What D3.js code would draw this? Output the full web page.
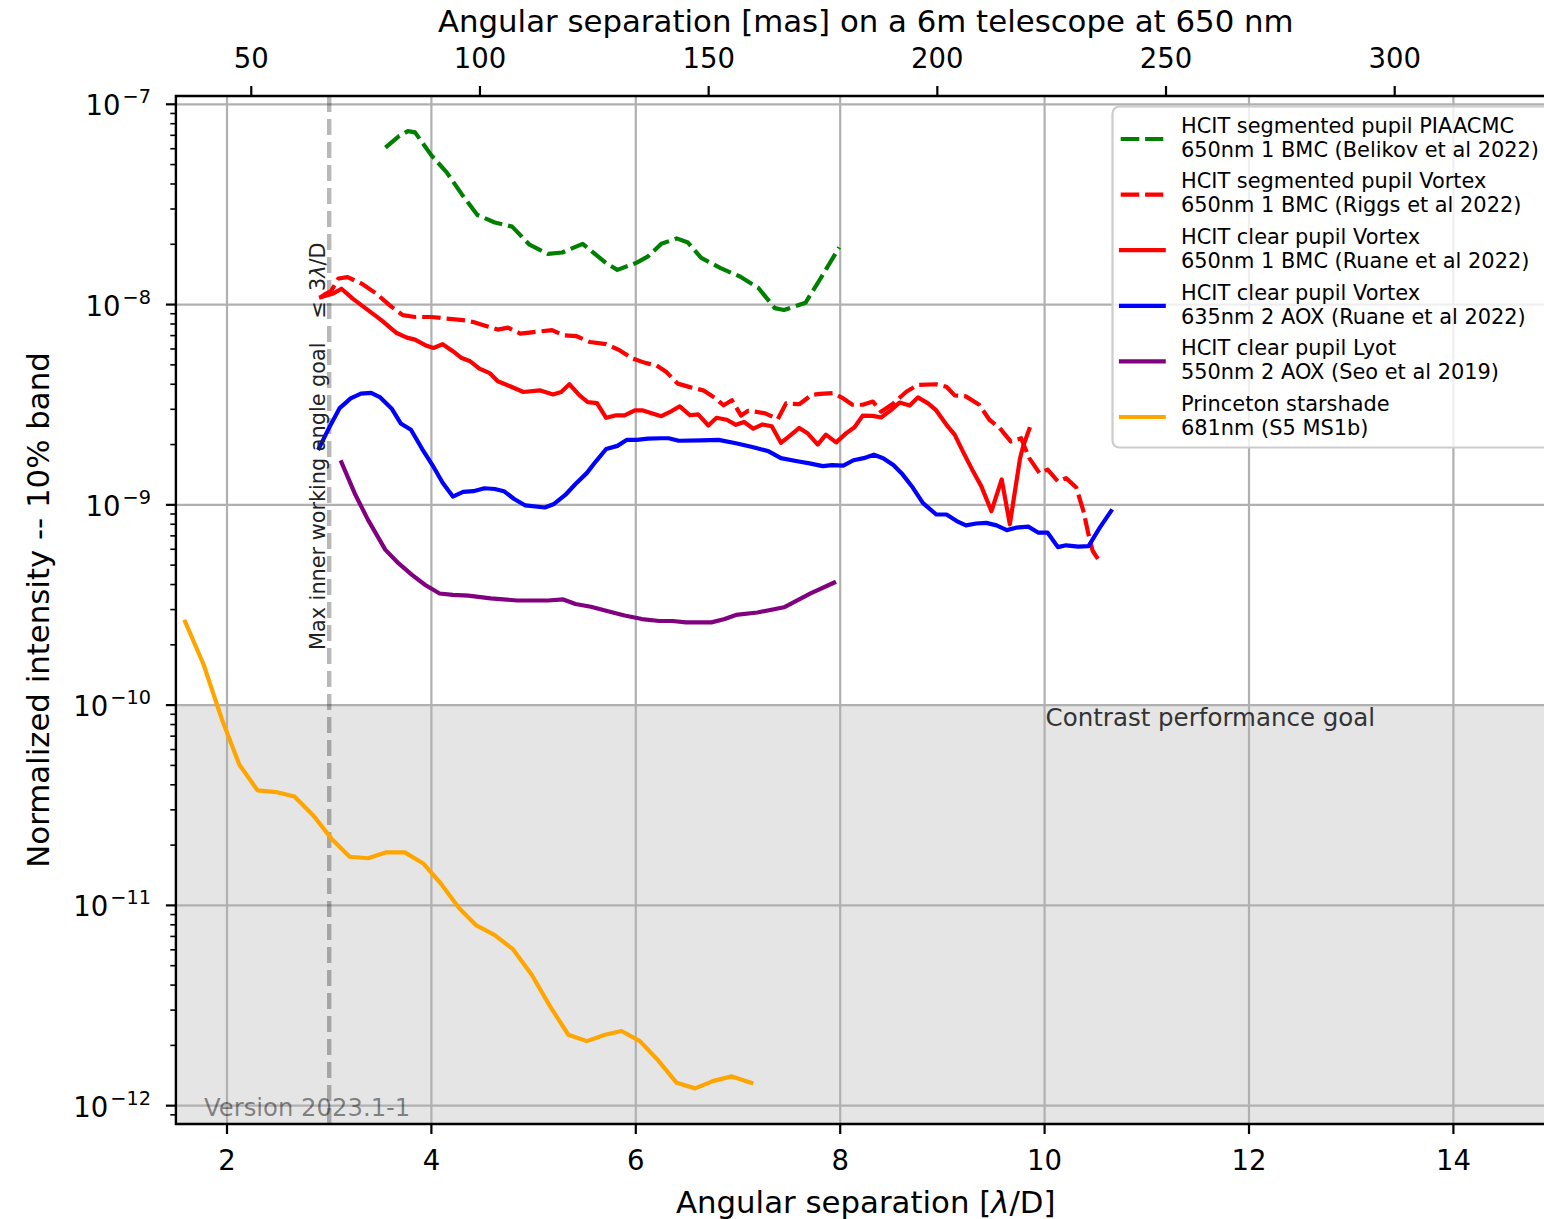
<!DOCTYPE html>
<html>
<head>
<meta charset="utf-8">
<script src="https://cdn.jsdelivr.net/npm/d3@7"></script>
<style>
  body { margin: 0; background: #fff; }
  text { font-family: "DejaVu Sans", sans-serif; }
</style>
</head>
<body>
<svg id="chart" width="1544" height="1219"></svg>
<script>
// ---- Contrast curves: separation [lambda/D] and normalized intensity ----
const piaacmcSep = [3.55,3.68,3.77,3.84,4.0,4.15,4.31,4.45,4.62,4.79,4.96,5.14,5.28,5.48,5.71,5.82,6.01,6.12,6.25,6.4,6.51,6.64,6.83,7.02,7.2,7.36,7.45,7.66,7.8,7.99];
const piaacmcInt = [6.07e-8,6.92e-8,7.35e-8,7.24e-8,5.56e-8,4.57e-8,3.48e-8,2.8e-8,2.57e-8,2.45e-8,1.99e-8,1.79e-8,1.82e-8,2.01e-8,1.61e-8,1.49e-8,1.62e-8,1.74e-8,2.01e-8,2.14e-8,2.04e-8,1.71e-8,1.52e-8,1.38e-8,1.21e-8,9.6e-9,9.4e-9,1.02e-8,1.33e-8,1.93e-8];

const vortexSegSep = [2.92,2.97,3.02,3.09,3.18,3.32,3.46,3.59,3.72,3.84,4.0,4.15,4.31,4.41,4.51,4.65,4.75,4.87,5.0,5.18,5.29,5.42,5.55,5.71,5.84,5.97,6.1,6.2,6.3,6.41,6.53,6.66,6.77,6.86,6.94,7.03,7.1,7.26,7.39,7.47,7.6,7.72,7.8,7.93,8.03,8.12,8.22,8.32,8.4,8.52,8.65,8.76,8.94,9.04,9.12,9.23,9.36,9.46,9.56,9.67,9.77,9.85,9.95,10.03,10.13,10.21,10.31,10.38,10.43,10.47,10.54];
const vortexSegInt = [1.09e-8,1.135e-8,1.17e-8,1.35e-8,1.37e-8,1.27e-8,1.135e-8,9.93e-9,8.85e-9,8.67e-9,8.67e-9,8.51e-9,8.36e-9,8.18e-9,7.89e-9,7.5e-9,7.67e-9,7.16e-9,7.29e-9,7.45e-9,7.03e-9,6.95e-9,6.5e-9,6.34e-9,5.92e-9,5.37e-9,5.1e-9,4.98e-9,4.6e-9,4.03e-9,3.87e-9,3.73e-9,3.43e-9,3.14e-9,3.33e-9,2.79e-9,2.95e-9,2.87e-9,2.68e-9,3.21e-9,3.18e-9,3.54e-9,3.58e-9,3.61e-9,3.4e-9,3.16e-9,3.16e-9,3.28e-9,2.92e-9,3.21e-9,3.68e-9,3.97e-9,4.0e-9,3.89e-9,3.52e-9,3.48e-9,3.16e-9,2.66e-9,2.42e-9,2.07e-9,2.15e-9,1.71e-9,1.44e-9,1.5e-9,1.31e-9,1.36e-9,1.22e-9,9.3e-10,7.1e-10,5.9e-10,5.2e-10];

const vortexBmcSep = [2.92,3.04,3.12,3.23,3.36,3.51,3.66,3.76,3.84,3.94,4.02,4.11,4.21,4.29,4.38,4.47,4.57,4.65,4.77,4.9,5.06,5.19,5.27,5.35,5.45,5.53,5.62,5.71,5.81,5.89,5.99,6.07,6.17,6.25,6.35,6.43,6.53,6.61,6.71,6.79,6.89,6.98,7.06,7.15,7.24,7.33,7.42,7.5,7.6,7.68,7.78,7.86,7.96,8.06,8.14,8.22,8.32,8.4,8.5,8.58,8.68,8.76,8.86,8.94,9.04,9.12,9.2,9.3,9.38,9.48,9.58,9.66,9.76,9.79,9.85];
const vortexBmcInt = [1.09e-8,1.135e-8,1.2e-8,1.07e-8,9.55e-9,8.36e-9,7.21e-9,6.84e-9,6.68e-9,6.27e-9,6.07e-9,6.34e-9,5.85e-9,5.43e-9,5.21e-9,4.79e-9,4.55e-9,4.14e-9,3.91e-9,3.66e-9,3.73e-9,3.56e-9,3.66e-9,4.0e-9,3.52e-9,3.26e-9,3.22e-9,2.72e-9,2.8e-9,2.8e-9,2.96e-9,2.96e-9,2.85e-9,2.77e-9,2.94e-9,3.1e-9,2.8e-9,2.83e-9,2.49e-9,2.72e-9,2.66e-9,2.51e-9,2.59e-9,2.4e-9,2.52e-9,2.47e-9,2.04e-9,2.2e-9,2.42e-9,2.28e-9,2.0e-9,2.24e-9,2.05e-9,2.28e-9,2.44e-9,2.79e-9,2.78e-9,2.73e-9,2.98e-9,3.24e-9,3.13e-9,3.44e-9,3.21e-9,2.96e-9,2.51e-9,2.24e-9,1.85e-9,1.47e-9,1.24e-9,9.3e-10,1.34e-9,8.0e-10,1.71e-9,1.96e-9,2.39e-9];

const vortexAoxSep = [2.9,3.0,3.1,3.21,3.31,3.41,3.5,3.61,3.7,3.8,3.91,4.01,4.11,4.21,4.31,4.41,4.52,4.62,4.71,4.81,4.92,5.11,5.2,5.31,5.41,5.52,5.61,5.71,5.82,5.91,6.01,6.12,6.25,6.32,6.42,6.64,6.81,6.98,7.15,7.3,7.42,7.58,7.7,7.83,7.92,8.03,8.13,8.23,8.33,8.42,8.52,8.61,8.71,8.81,8.94,9.04,9.14,9.23,9.33,9.43,9.53,9.63,9.72,9.84,9.94,10.03,10.13,10.21,10.33,10.43,10.54,10.65];
const vortexAoxInt = [1.92e-9,2.43e-9,3.03e-9,3.4e-9,3.59e-9,3.62e-9,3.44e-9,3.03e-9,2.55e-9,2.37e-9,1.9e-9,1.58e-9,1.29e-9,1.1e-9,1.16e-9,1.17e-9,1.21e-9,1.2e-9,1.17e-9,1.07e-9,9.93e-10,9.7e-10,1.01e-9,1.12e-9,1.27e-9,1.44e-9,1.65e-9,1.9e-9,1.97e-9,2.11e-9,2.11e-9,2.14e-9,2.15e-9,2.15e-9,2.09e-9,2.1e-9,2.11e-9,2.03e-9,1.94e-9,1.85e-9,1.71e-9,1.65e-9,1.61e-9,1.56e-9,1.58e-9,1.57e-9,1.67e-9,1.71e-9,1.78e-9,1.71e-9,1.58e-9,1.42e-9,1.22e-9,1.02e-9,8.95e-10,8.95e-10,8.3e-10,7.9e-10,8.07e-10,8.13e-10,7.9e-10,7.48e-10,7.69e-10,7.78e-10,7.26e-10,7.26e-10,6.15e-10,6.28e-10,6.18e-10,6.22e-10,7.69e-10,9.3e-10];

const lyotSep = [3.12,3.25,3.38,3.55,3.68,3.81,3.94,4.08,4.21,4.36,4.58,4.84,5.14,5.29,5.41,5.56,5.71,5.89,6.06,6.23,6.36,6.49,6.74,6.87,6.98,7.19,7.45,7.58,7.71,7.94];
const lyotInt = [1.63e-9,1.14e-9,8.41e-10,5.96e-10,5.1e-10,4.47e-10,3.98e-10,3.61e-10,3.55e-10,3.52e-10,3.41e-10,3.33e-10,3.33e-10,3.37e-10,3.2e-10,3.1e-10,2.96e-10,2.8e-10,2.69e-10,2.63e-10,2.63e-10,2.59e-10,2.59e-10,2.69e-10,2.82e-10,2.9e-10,3.08e-10,3.33e-10,3.61e-10,4.09e-10];

const starshadeSep = [1.59,1.77,1.95,2.12,2.3,2.48,2.66,2.84,3.02,3.2,3.38,3.56,3.74,3.92,4.09,4.27,4.44,4.62,4.8,4.98,5.16,5.34,5.52,5.7,5.86,6.04,6.22,6.4,6.58,6.76,6.94,7.13];
const starshadeInt = [2.61e-10,1.6e-10,8.5e-11,5.05e-11,3.75e-11,3.68e-11,3.5e-11,2.83e-11,2.16e-11,1.75e-11,1.72e-11,1.84e-11,1.84e-11,1.62e-11,1.29e-11,9.7e-12,7.94e-12,7.11e-12,6.03e-12,4.52e-12,3.14e-12,2.26e-12,2.1e-12,2.26e-12,2.36e-12,2.1e-12,1.68e-12,1.3e-12,1.22e-12,1.33e-12,1.4e-12,1.3e-12];

// ---- Axis ticks and reference levels ----
const sepTicks = [2, 4, 6, 8, 10, 12, 14];
const masTicks = [50, 100, 150, 200, 250, 300];
const decadeExponents = [-12, -11, -10, -9, -8, -7];
const contrastGoal = 1e-10;
const iwaGoal = 3;
const masPerLambdaD = 650e-9 / 6 * 206264806.2; // 650 nm on a 6 m aperture

// ---- Legend entries ----
const seriesLabels = [
  ["HCIT segmented pupil PIAACMC", "650nm 1 BMC (Belikov et al 2022)"],
  ["HCIT segmented pupil Vortex", "650nm 1 BMC (Riggs et al 2022)"],
  ["HCIT clear pupil Vortex", "650nm 1 BMC (Ruane et al 2022)"],
  ["HCIT clear pupil Vortex", "635nm 2 AOX (Ruane et al 2022)"],
  ["HCIT clear pupil Lyot", "550nm 2 AOX (Seo et al 2019)"],
  ["Princeton starshade", "681nm (S5 MS1b)"]
];
const seriesColors = ["green", "red", "red", "blue", "purple", "orange"];
const seriesDashed = [true, true, false, false, false, false];

const series = [
  [piaacmcSep, piaacmcInt], [vortexSegSep, vortexSegInt], [vortexBmcSep, vortexBmcInt],
  [vortexAoxSep, vortexAoxInt], [lyotSep, lyotInt], [starshadeSep, starshadeInt]
].map(([s, v], i) => ({
  points: s.map((d, j) => [d, v[j]]),
  color: seriesColors[i], dashed: seriesDashed[i], label: seriesLabels[i]
}));

// ---- Layout ----
const L = 175.9, R = 1555.6, T = 96, B = 1124;
const svg = d3.select("#chart");
svg.append("rect").attr("width", 1544).attr("height", 1219).attr("fill", "#fff");

const x = d3.scaleLinear().domain([1.5, 15]).range([L, R]);
const xTop = d3.scaleLinear().domain([1.5 * masPerLambdaD, 15 * masPerLambdaD]).range([L, R]);
const y = d3.scaleLog().domain([8.1e-13, 1.1e-7]).range([B, T]);

svg.append("defs").append("clipPath").attr("id", "plotClip")
  .append("rect").attr("x", L).attr("y", T).attr("width", R - L).attr("height", B - T);

const plot = svg.append("g").attr("clip-path", "url(#plotClip)");

// contrast goal band
plot.append("rect")
  .attr("x", L).attr("width", R - L)
  .attr("y", y(contrastGoal)).attr("height", B - y(contrastGoal))
  .attr("fill", "#e5e5e5");

// grid
const gridStyle = g => g.attr("stroke", "#b0b0b0").attr("stroke-width", 2.2);
plot.append("g").selectAll("line").data(sepTicks).join("line")
  .attr("x1", d => x(d)).attr("x2", d => x(d)).attr("y1", T).attr("y2", B).call(gridStyle);
plot.append("g").selectAll("line").data(decadeExponents).join("line")
  .attr("x1", L).attr("x2", R).attr("y1", d => y(Math.pow(10, d))).attr("y2", d => y(Math.pow(10, d))).call(gridStyle);

// inner working angle goal
plot.append("line")
  .attr("x1", x(iwaGoal)).attr("x2", x(iwaGoal)).attr("y1", T).attr("y2", B)
  .attr("stroke", "#000").attr("stroke-opacity", 0.28).attr("stroke-width", 4.4)
  .attr("stroke-dasharray", "16,7");

// curves
const line = d3.line().x(d => x(d[0])).y(d => y(d[1]));
plot.append("g").selectAll("path").data(series).join("path")
  .attr("d", d => line(d.points))
  .attr("fill", "none")
  .attr("stroke", d => d.color)
  .attr("stroke-width", 4.2)
  .attr("stroke-linejoin", "round")
  .attr("stroke-linecap", d => d.dashed ? "butt" : "square")
  .attr("stroke-dasharray", d => d.dashed ? "18.5,6" : null);

// annotations
svg.append("text")
  .attr("x", x(10) + 1).attr("y", y(contrastGoal) + 21)
  .attr("font-size", 24.5).attr("fill", "#333")
  .text("Contrast performance goal");

svg.append("text")
  .attr("x", 204).attr("y", 1116)
  .attr("font-size", 24.3).attr("fill", "#000").attr("fill-opacity", 0.45)
  .text("Version 2023.1-1");

const iwa = svg.append("text")
  .attr("transform", `translate(${x(iwaGoal) - 4},650) rotate(-90)`)
  .attr("font-size", 20.8).attr("fill", "#222");
iwa.append("tspan").text("Max inner working angle goal");
iwa.append("tspan").attr("dx", 24).text("≤");
iwa.append("tspan").attr("dx", 10).text("3");
iwa.append("tspan").attr("font-style", "italic").text("λ");
iwa.append("tspan").text("/D");

// ---- Axes ----
const axes = svg.append("g");
const tickW = 2.2;

// bottom
axes.append("g").selectAll("line").data(sepTicks).join("line")
  .attr("x1", d => x(d)).attr("x2", d => x(d)).attr("y1", B).attr("y2", B + 10)
  .attr("stroke", "#000").attr("stroke-width", tickW);
axes.append("g").selectAll("text").data(sepTicks).join("text")
  .attr("x", d => x(d)).attr("y", 1170).attr("text-anchor", "middle")
  .attr("font-size", 27.5).text(d => d);

// top (milliarcseconds)
axes.append("g").selectAll("line").data(masTicks).join("line")
  .attr("x1", d => xTop(d)).attr("x2", d => xTop(d)).attr("y1", T).attr("y2", T - 10)
  .attr("stroke", "#000").attr("stroke-width", tickW);
axes.append("g").selectAll("text").data(masTicks).join("text")
  .attr("x", d => xTop(d)).attr("y", 68).attr("text-anchor", "middle")
  .attr("font-size", 27.5).text(d => d);

// left (log)
axes.append("g").selectAll("line").data(decadeExponents).join("line")
  .attr("x1", L).attr("x2", L - 10)
  .attr("y1", d => y(Math.pow(10, d))).attr("y2", d => y(Math.pow(10, d)))
  .attr("stroke", "#000").attr("stroke-width", tickW);
const minorVals = [];
for (let e = -13; e <= -7; e++) for (let m = 2; m <= 9; m++) {
  const v = m * Math.pow(10, e);
  if (v > y.domain()[0] && v < y.domain()[1]) minorVals.push(v);
}
axes.append("g").selectAll("line").data(minorVals).join("line")
  .attr("x1", L).attr("x2", L - 5.6).attr("y1", d => y(d)).attr("y2", d => y(d))
  .attr("stroke", "#000").attr("stroke-width", 1.6);
const yLab = axes.append("g").selectAll("text").data(decadeExponents).join("text")
  .attr("x", 151).attr("y", d => y(Math.pow(10, d)) + 11)
  .attr("text-anchor", "end").attr("font-size", 27.5);
yLab.append("tspan").text("10");
yLab.append("tspan").attr("dx", 2).attr("dy", -12).attr("font-size", 19.3).text(d => "−" + Math.abs(d));

// spines
axes.append("path")
  .attr("d", `M${R},${T}H${L}V${B}H${R}`)
  .attr("fill", "none").attr("stroke", "#000").attr("stroke-width", 2.4);

// axis titles
const xTitle = svg.append("text")
  .attr("x", (L + R) / 2).attr("y", 1213).attr("text-anchor", "middle").attr("font-size", 30.8);
xTitle.append("tspan").text("Angular separation [");
xTitle.append("tspan").attr("font-style", "italic").text("λ");
xTitle.append("tspan").text("/D]");

svg.append("text")
  .attr("x", (L + R) / 2).attr("y", 32).attr("text-anchor", "middle").attr("font-size", 30.8)
  .text("Angular separation [mas] on a 6m telescope at 650 nm");

svg.append("text")
  .attr("transform", `translate(49,${(T + B) / 2}) rotate(-90)`)
  .attr("text-anchor", "middle").attr("font-size", 30.8)
  .text("Normalized intensity -- 10% band");

// ---- Legend ----
const legend = svg.append("g");
legend.append("rect")
  .attr("x", 1112.5).attr("y", 106.5).attr("width", 500).attr("height", 341)
  .attr("rx", 7).attr("fill", "#fff").attr("fill-opacity", 0.8)
  .attr("stroke", "#cccccc").attr("stroke-width", 2.2);
const entry = legend.selectAll("g.entry").data(series).join("g")
  .attr("class", "entry")
  .attr("transform", (d, i) => `translate(0,${139 + 55.6 * i})`);
entry.append("line")
  .attr("x1", d => d.dashed ? 1120.7 : 1121).attr("x2", d => d.dashed ? 1163.3 : 1163.7)
  .attr("stroke", d => d.color).attr("stroke-width", 4.2)
  .attr("stroke-linecap", d => d.dashed ? "butt" : "square")
  .attr("stroke-dasharray", d => d.dashed ? "18.6,5.8" : null);
entry.append("text").attr("x", 1181).attr("y", -6.3).attr("font-size", 20.9).text(d => d.label[0]);
entry.append("text").attr("x", 1181).attr("y", 17.7).attr("font-size", 20.9).text(d => d.label[1]);
</script>
</body>
</html>
